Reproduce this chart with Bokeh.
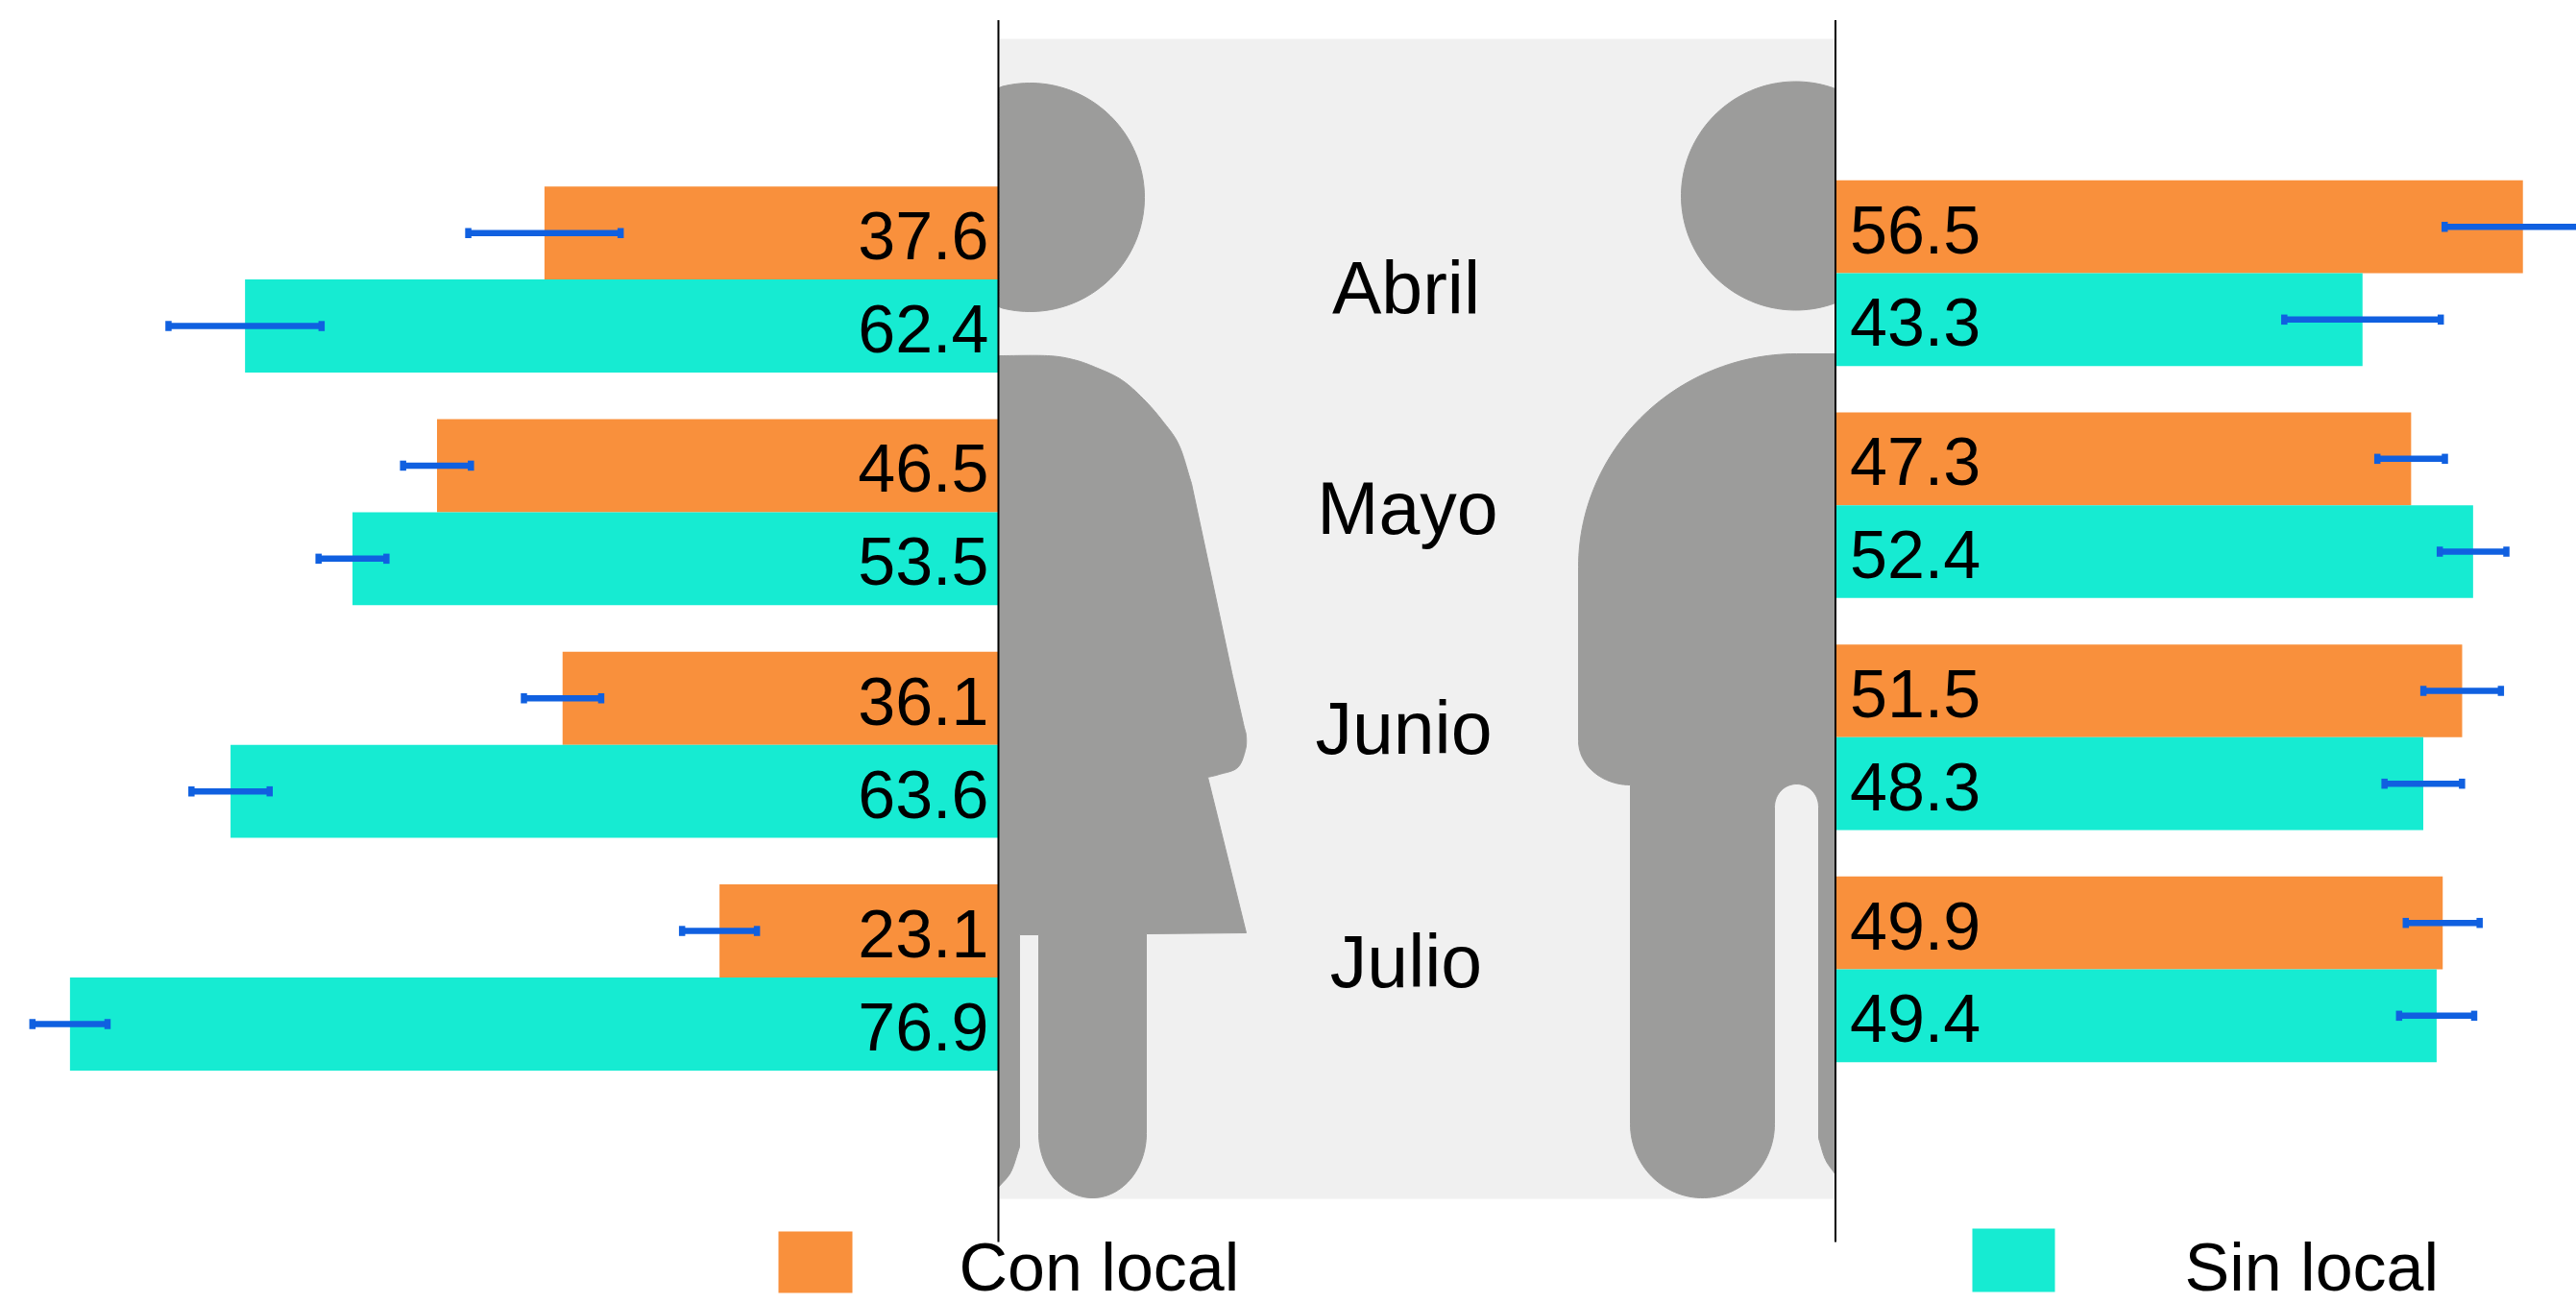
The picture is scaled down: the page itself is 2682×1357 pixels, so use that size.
import numpy as np
from bokeh.embed import file_html
from bokeh.resources import INLINE
from bokeh.plotting import figure
from bokeh.models import Range1d, ColumnDataSource
from bokeh.core.properties import value

# ---------- data ----------
months = ["Abril", "Mayo", "Junio", "Julio"]
series = ["Con local", "Sin local"]
mujer_con = [37.6, 46.5, 36.1, 23.1]
mujer_sin = [62.4, 53.5, 63.6, 76.9]
hombre_con = [56.5, 47.3, 51.5, 49.9]
hombre_sin = [43.3, 52.4, 48.3, 49.4]
err_mujer_con = [6.31, 2.81, 3.2, 3.1]
err_mujer_sin = [6.34, 2.81, 3.24, 3.11]
err_hombre_con = [6.44, 2.78, 3.19, 3.04]
err_hombre_sin = [6.44, 2.74, 3.19, 3.09]

# ---------- style / layout ----------
W, H = 2682, 1357
ORANGE, TEAL, BLUE = "#F9903C", "#16EBD2", "#1060E0"
GREY, PALE = "#9C9C9B", "#F0F0F0"
FONT = value("Liberation Sans")
L_ZERO, L_SCALE = 1039.0, 12.57
R_ZERO, R_SCALE = 1911.5, 12.65
L_Y0, L_DY = 290.6, 242.3
R_Y0, R_DY = 284.0, 241.67
BAR = 0.4

p = figure(width=W, height=H, output_backend="svg", toolbar_location=None,
           x_range=Range1d(0, W), y_range=Range1d(H, 0),
           min_border=0, outline_line_color=None, background_fill_color="white",
           border_fill_color="white")
p.xaxis.visible = False
p.yaxis.visible = False
p.grid.visible = False
p.extra_x_ranges = {
    "lx": Range1d(L_ZERO / L_SCALE, (L_ZERO - W) / L_SCALE),
    "rx": Range1d(-R_ZERO / R_SCALE, (W - R_ZERO) / R_SCALE),
}
p.extra_y_ranges = {
    "ly": Range1d((H - L_Y0) / L_DY, -L_Y0 / L_DY),
    "ry": Range1d((H - R_Y0) / R_DY, -R_Y0 / R_DY),
}


# ---------- backdrop pictogram ----------
def smooth(pts, n=14):
    pts = np.asarray(pts, float)
    q = np.vstack([2 * pts[0] - pts[1], pts, 2 * pts[-1] - pts[-2]])
    out = []
    for i in range(1, len(q) - 2):
        for t in np.linspace(0, 1, n, endpoint=False):
            a, b, c, d = q[i - 1], q[i], q[i + 1], q[i + 2]
            out.append(0.5 * (2 * b + (c - a) * t + (2 * a - 5 * b + 4 * c - d) * t ** 2
                              + (3 * b - a - 3 * c + d) * t ** 3))
    out.append(pts[-1])
    return out


def arc(cx, cy, rx, ry, a0, a1, n=60):
    t = np.radians(np.linspace(a0, a1, n))
    return list(zip(cx + rx * np.cos(t), cy + ry * np.sin(t)))


def head(cx, cy, r, lo, hi):
    t = np.linspace(0, 2 * np.pi, 160)
    return np.clip(cx + r * np.cos(t), lo, hi), cy + r * np.sin(t)


woman = (
    [(1040, 1235), (1040, 370)]
    + smooth([(1040, 370), (1090, 370), (1117, 374), (1140, 382), (1167, 395), (1190, 415),
              (1210, 438), (1227, 463), (1240, 503)])
    + [(1282, 700)]
    + smooth([(1282, 700), (1294, 753), (1297, 766), (1296, 781), (1288, 799), (1269, 806), (1257, 809)])
    + [(1297, 971), (1193, 972)]
    + arc(1137, 1180, 56, 67, 0, 180)
    + [(1081, 973), (1061, 973)]
    + smooth([(1061, 1194), (1052, 1220), (1040, 1235)])
)
man = (
    [(1910, 1222), (1910, 368), (1870, 368)]
    + arc(1870, 590, 227, 222, 270, 180)
    + arc(1697, 771, 54, 46, 180, 90)
    + arc(1772, 1170, 75, 77, 180, 0)
    + arc(1870, 840, 23, 24, 180, 360)
    + smooth([(1893, 1185), (1900, 1207), (1910, 1222)])
)
p.quad(left=[1040], right=[1910], top=[40], bottom=[1248], color=PALE, line_color=None)
shapes_x = [head(1072, 205, 119, 1040, 1910)[0], [a for a, _ in woman],
            head(1869, 203.5, 119, 1040, 1910)[0], [a for a, _ in man]]
shapes_y = [head(1072, 205, 119, 1040, 1910)[1], [b for _, b in woman],
            head(1869, 203.5, 119, 1040, 1910)[1], [b for _, b in man]]
p.patches(shapes_x, shapes_y, fill_color=GREY, line_color=GREY, line_width=1)

# ---------- bars, error bars, value labels ----------
panels = [
    (mujer_con, err_mujer_con, -BAR / 2, ORANGE, "lx", "ly", True),
    (mujer_sin, err_mujer_sin, BAR / 2, TEAL, "lx", "ly", True),
    (hombre_con, err_hombre_con, -BAR / 2, ORANGE, "rx", "ry", False),
    (hombre_sin, err_hombre_sin, BAR / 2, TEAL, "rx", "ry", False),
]
sources = []
for vals, errs, offset, colour, xr, yr, left_side in panels:
    src = ColumnDataSource(dict(
        y=[i + offset for i in range(len(vals))], v=vals,
        lo=[a - b for a, b in zip(vals, errs)], hi=[a + b for a, b in zip(vals, errs)],
        label=[f"{a:.1f}" for a in vals], zero=[0] * len(vals)))
    sources.append(src)
    p.hbar(y="y", left="zero", right="v", height=BAR, color=colour, line_color=None,
           source=src, x_range_name=xr, y_range_name=yr)

for (vals, errs, offset, colour, xr, yr, left_side), src in zip(panels, sources):
    kw = dict(source=src, x_range_name=xr, y_range_name=yr)
    p.segment(x0="lo", x1="hi", y0="y", y1="y", line_color=BLUE, line_width=6.5, **kw)
    for col in ("lo", "hi"):
        p.rect(x=col, y="y", width=6.5, height=10.5, width_units="screen",
               height_units="screen", color=BLUE, line_color=None, **kw)
    p.text(x="zero", y="y", text="label", text_font=FONT, text_font_size="70px",
           text_color="black", text_baseline="alphabetic",
           text_align="right" if left_side else "left",
           x_offset=-10 if left_side else 14, y_offset=3, **kw)

# ---------- month labels ----------
p.text(x=[1463.5, 1465, 1461, 1463.5], y=[299, 528, 757, 1000], text=months,
       text_font=FONT, text_font_size="77px", text_color="black",
       text_align="center", text_baseline="alphabetic")

# ---------- separators ----------
p.segment(x0=[1039, 1910.5], x1=[1039, 1910.5], y0=[20.5, 20.5], y1=[1293, 1293],
          line_color="black", line_width=2)

# ---------- legend ----------
p.quad(left=[810, 2053], right=[887, 2139], top=[1282, 1279], bottom=[1346, 1345],
       color=[ORANGE, TEAL], line_color=None)
p.text(x=[998, 2274], y=[1319, 1319], text=series, text_font=FONT, text_font_size="70px",
       text_color="black", text_align="left", text_baseline="alphabetic")

open("out.html", "w").write(file_html(p, INLINE))
